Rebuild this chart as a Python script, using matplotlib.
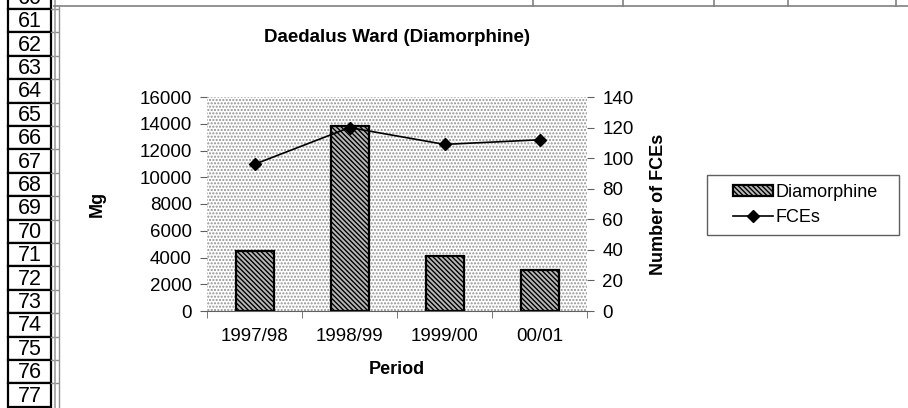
import matplotlib.pyplot as plt
from matplotlib.patches import Rectangle
from matplotlib.lines import Line2D
import numpy as np

plt.rcParams['font.family'] = ['Liberation Sans', 'DejaVu Sans']
plt.rcParams['hatch.linewidth'] = 1.0

# chart data
periods = ["1997/98", "1998/99", "1999/00", "00/01"]
diamorphine = [4450, 13800, 4100, 3100]
fces = [96, 120, 109, 112]
row_numbers = list(range(60, 78))

W, H = 908, 408
fig = plt.figure(figsize=(W / 100, H / 100), dpi=100)


def px(x0, y0, x1, y1):
    # pixel box (top-left origin) -> figure rect
    return [x0 / W, 1 - y1 / H, (x1 - x0) / W, (y1 - y0) / H]


# spreadsheet background: row header column
row_h = 23.4
for n in row_numbers:
    top = 9 + row_h * (n - 61)
    fig.patches.append(Rectangle((8 / W, 1 - (top + row_h) / H), 43 / W, row_h / H,
                                 transform=fig.transFigure, facecolor='white',
                                 edgecolor='black', lw=1.6))
    fig.text(29.5 / W, 1 - (top + row_h / 2 + 1) / H, str(n), ha='center', va='center',
             fontsize=15.5)
    fig.lines.append(Line2D([51 / W, 58 / W], [1 - top / H] * 2, transform=fig.transFigure,
                            color='#909090', lw=1))
fig.lines.append(Line2D([54.5 / W] * 2, [0, 1], transform=fig.transFigure, color='#a0a0a0', lw=1.2))
# top row border and column lines
fig.lines.append(Line2D([54 / W, 1], [1 - 5.5 / H] * 2, transform=fig.transFigure, color='#808080', lw=1.2))
for cx in [533, 623, 714, 788, 896]:
    fig.lines.append(Line2D([cx / W] * 2, [1 - 5.5 / H, 1], transform=fig.transFigure,
                            color='#808080', lw=1.2))
# chart area border
fig.lines.append(Line2D([59.5 / W] * 2, [0, 1 - 6 / H], transform=fig.transFigure, color='#909090', lw=1))

# main chart
ax = fig.add_axes(px(207, 97, 587, 311))
ax.patch.set_facecolor('white')
ax.patch.set_hatch('.....')
ax.patch.set_edgecolor('#909090')
ax.patch.set_linewidth(0)

x = np.arange(len(periods))
ax.bar(x, diamorphine, width=0.4, color='#b8b8b8', edgecolor='black', hatch='\\\\\\\\\\\\\\',
       lw=1.6, zorder=2, label='Diamorphine')
ax.set_xlim(-0.5, len(periods) - 0.5)
ax.set_ylim(0, 16000)
ax.set_yticks(range(0, 16001, 2000))
ax.set_xticks(x)
ax.set_xticklabels(periods, fontsize=13.5)
ax.set_xticks(np.arange(-0.5, len(periods)), minor=True)
ax.tick_params(axis='x', which='major', length=0, pad=12)
ax.tick_params(axis='x', which='minor', length=5, color='#606060')
ax.tick_params(axis='y', length=5, labelsize=13.5, color='#606060', pad=6)
for side in ['top', 'right', 'left']:
    ax.spines[side].set_visible(False)
ax.spines['bottom'].set_color('#606060')
ax.set_ylabel('Mg', fontsize=13, fontweight='bold', labelpad=24)
ax.set_xlabel('Period', fontsize=13, fontweight='bold', labelpad=12)

ax2 = ax.twinx()
ax2.plot(x, fces, color='black', lw=1.2, marker='D', markersize=6, label='FCEs', zorder=3)
ax2.set_ylim(0, 140)
ax2.set_yticks(range(0, 141, 20))
ax2.tick_params(axis='y', length=5, labelsize=13.5, color='#606060', pad=6)
for side in ['top', 'left', 'bottom', 'right']:
    ax2.spines[side].set_visible(False)
ax2.set_ylabel('Number of FCEs', fontsize=13, fontweight='bold', labelpad=12)

fig.text(397 / W, 1 - 38 / H, 'Daedalus Ward (Diamorphine)', ha='center', va='center',
         fontsize=13.5, fontweight='bold')

# legend with a separate frame
fig.patches.append(Rectangle((707 / W, 1 - 235 / H), 192 / W, 60 / H, transform=fig.transFigure,
                             facecolor='white', edgecolor='#606060', lw=1))
h1, l1 = ax.get_legend_handles_labels()
h2, l2 = ax2.get_legend_handles_labels()
leg = fig.legend(h1 + h2, l1 + l2, loc='center left', bbox_to_anchor=(724 / W, 1 - 205 / H),
                 fontsize=13, frameon=False, handlelength=2.2, handleheight=0.6,
                 handletextpad=0.15, borderpad=0, labelspacing=0.45)

fig.savefig('out.png', dpi=100)
